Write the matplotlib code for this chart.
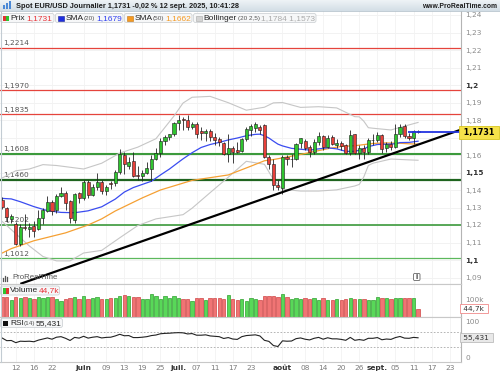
import numpy as np
import pandas as pd
import matplotlib
matplotlib.use("Agg")
import matplotlib.pyplot as plt
from matplotlib.patches import Rectangle, FancyBboxPatch
from matplotlib.transforms import blended_transform_factory
from matplotlib.colors import LinearSegmentedColormap

plt.rcParams['font.family'] = ['DejaVu Sans']

# ---------------- data ----------------
first_session = "2025-05-07"
last_session = "2025-09-12"

opens = [1.1345, 1.1298, 1.1232, 1.1205, 1.1092, 1.1188, 1.1180, 1.1192, 1.1180, 1.1238,
         1.1282, 1.1333, 1.1285, 1.1368, 1.1385, 1.1340, 1.1228, 1.1382, 1.1352, 1.1445,
         1.1372, 1.1415, 1.1445, 1.1392, 1.1440, 1.1440, 1.1503, 1.1600, 1.1540, 1.1565,
         1.1485, 1.1478, 1.1495, 1.1520, 1.1580, 1.1610, 1.1680, 1.1703, 1.1720, 1.1785,
         1.1805, 1.1798, 1.1760, 1.1780, 1.1740, 1.1725, 1.1740, 1.1703, 1.1690, 1.1670,
         1.1605, 1.1640, 1.1628, 1.1625, 1.1693, 1.1742, 1.1755, 1.1760, 1.1771, 1.1590,
         1.1550, 1.1430, 1.1410, 1.1590, 1.1575, 1.1578, 1.1668, 1.1680, 1.1645, 1.1615,
         1.1675, 1.1708, 1.1645, 1.1705, 1.1660, 1.1668, 1.1655, 1.1612, 1.1718, 1.1612,
         1.1640, 1.1615, 1.1685, 1.1688, 1.1715, 1.1638, 1.1662, 1.1648, 1.1718, 1.1765,
         1.1708, 1.1700, 1.1735]
highs = [1.1360, 1.1305, 1.1265, 1.1215, 1.1205, 1.1265, 1.1210, 1.1225, 1.1285, 1.1295,
         1.1365, 1.1345, 1.1375, 1.1420, 1.1395, 1.1345, 1.1385, 1.1390, 1.1455, 1.1455,
         1.1435, 1.1495, 1.1455, 1.1430, 1.1450, 1.1515, 1.1635, 1.1615, 1.1590, 1.1615,
         1.1540, 1.1515, 1.1560, 1.1600, 1.1640, 1.1700, 1.1715, 1.1720, 1.1790, 1.1830,
         1.1820, 1.1830, 1.1790, 1.1790, 1.1760, 1.1750, 1.1750, 1.1725, 1.1705, 1.1675,
         1.1722, 1.1650, 1.1675, 1.1700, 1.1760, 1.1778, 1.1790, 1.1770, 1.1775, 1.1600,
         1.1575, 1.1460, 1.1600, 1.1600, 1.1605, 1.1670, 1.1700, 1.1690, 1.1660, 1.1690,
         1.1730, 1.1715, 1.1715, 1.1715, 1.1690, 1.1680, 1.1665, 1.1742, 1.1722, 1.1660,
         1.1660, 1.1695, 1.1720, 1.1730, 1.1720, 1.1675, 1.1680, 1.1780, 1.1775, 1.1780,
         1.1725, 1.1745, 1.1745]
lows = [1.1290, 1.1220, 1.1210, 1.1085, 1.1080, 1.1170, 1.1130, 1.1130, 1.1170, 1.1205,
        1.1275, 1.1255, 1.1270, 1.1360, 1.1285, 1.1210, 1.1210, 1.1325, 1.1345, 1.1355,
        1.1365, 1.1400, 1.1375, 1.1370, 1.1405, 1.1425, 1.1490, 1.1490, 1.1520, 1.1475,
        1.1460, 1.1450, 1.1490, 1.1450, 1.1570, 1.1590, 1.1655, 1.1685, 1.1710, 1.1745,
        1.1745, 1.1745, 1.1750, 1.1700, 1.1685, 1.1680, 1.1680, 1.1655, 1.1650, 1.1600,
        1.1560, 1.1555, 1.1610, 1.1615, 1.1680, 1.1710, 1.1730, 1.1720, 1.1585, 1.1520,
        1.1400, 1.1400, 1.1380, 1.1545, 1.1530, 1.1570, 1.1640, 1.1630, 1.1590, 1.1605,
        1.1660, 1.1630, 1.1640, 1.1655, 1.1640, 1.1630, 1.1605, 1.1600, 1.1605, 1.1575,
        1.1575, 1.1605, 1.1655, 1.1675, 1.1610, 1.1620, 1.1630, 1.1640, 1.1705, 1.1695,
        1.1685, 1.1665, 1.1725]
closes = [1.1302, 1.1248, 1.1250, 1.1092, 1.1188, 1.1182, 1.1188, 1.1168, 1.1238, 1.1285,
          1.1333, 1.1280, 1.1365, 1.1385, 1.1328, 1.1240, 1.1378, 1.1352, 1.1445, 1.1372,
          1.1415, 1.1445, 1.1392, 1.1415, 1.1432, 1.1503, 1.1605, 1.1550, 1.1560, 1.1480,
          1.1478, 1.1495, 1.1525, 1.1580, 1.1610, 1.1680, 1.1703, 1.1718, 1.1785, 1.1802,
          1.1798, 1.1760, 1.1778, 1.1722, 1.1725, 1.1740, 1.1703, 1.1688, 1.1672, 1.1605,
          1.1640, 1.1615, 1.1620, 1.1693, 1.1750, 1.1768, 1.1780, 1.1742, 1.1590, 1.1550,
          1.1430, 1.1420, 1.1590, 1.1575, 1.1580, 1.1665, 1.1695, 1.1642, 1.1615, 1.1675,
          1.1708, 1.1645, 1.1700, 1.1665, 1.1668, 1.1650, 1.1612, 1.1715, 1.1612, 1.1640,
          1.1615, 1.1685, 1.1688, 1.1715, 1.1635, 1.1662, 1.1648, 1.1718, 1.1762, 1.1708,
          1.1700, 1.1735, 1.1731]
volumes_k = [114, 114, 98, 114, 110, 114, 110, 100, 114, 110,
             114, 114, 104, 90, 100, 110, 114, 104, 117, 100,
             110, 114, 100, 100, 106, 106, 117, 123, 117, 114,
             114, 100, 100, 133, 117, 100, 117, 106, 121, 106,
             100, 100, 90, 110, 106, 98, 106, 110, 106, 100,
             123, 100, 94, 100, 90, 106, 100, 98, 117, 117,
             121, 114, 128, 114, 104, 110, 100, 106, 100, 110,
             94, 106, 98, 94, 100, 96, 104, 110, 104, 100,
             100, 98, 94, 114, 106, 106, 104, 106, 106, 110,
             106, 110, 44.7]
rsi14 = [54.6, 47.5, 48.0, 42.0, 46.0, 45.5, 46.0, 44.5, 49.0, 52.0,
         55.0, 51.5, 57.0, 58.5, 54.0, 48.0, 56.5, 54.5, 59.5, 54.5,
         57.0, 58.5, 55.0, 56.5, 57.0, 60.5, 65.0, 61.0, 61.5, 56.0,
         56.0, 57.0, 58.5, 61.5, 63.0, 66.5, 67.5, 68.0, 69.0, 69.5,
         69.0, 66.0, 67.0, 62.5, 62.5, 63.5, 60.5, 59.5, 58.5, 53.5,
         56.0, 52.0, 51.0, 58.5, 61.5, 62.5, 63.5, 60.5, 48.5, 45.5,
         34.0, 31.5, 47.0, 46.0, 46.5, 53.0, 55.0, 51.5, 49.5, 54.0,
         56.5, 51.5, 55.5, 52.5, 52.5, 51.0, 48.5, 56.5, 48.5, 50.5,
         48.5, 54.0, 54.0, 56.0, 50.0, 52.0, 51.0, 56.0, 59.0, 54.5,
         54.0, 56.5, 55.4]

# indicator lines, read at session positions
sma20_pos = [0, 2, 4, 7, 10, 13, 16, 19, 22, 25, 27, 29, 31, 33, 35, 37, 39, 40, 42, 44,
             46, 48, 50, 52, 54, 56, 57, 58, 59, 60, 61, 62, 64, 66, 68, 70, 72, 74, 76, 78,
             80, 81, 83, 85, 87, 88, 90, 92]
sma20_val = [1.1352, 1.1349, 1.1333, 1.1305, 1.1282, 1.1272, 1.1270, 1.1281, 1.1304, 1.1348,
             1.1388, 1.1414, 1.1432, 1.1450, 1.1486, 1.1520, 1.1559, 1.1578, 1.1613, 1.1643,
             1.1660, 1.1672, 1.1686, 1.1697, 1.1710, 1.1718, 1.1719, 1.1710, 1.1697, 1.1679,
             1.1662, 1.1652, 1.1638, 1.1633, 1.1628, 1.1635, 1.1641, 1.1635, 1.1621, 1.1621,
             1.1634, 1.1648, 1.1660, 1.1662, 1.1664, 1.1671, 1.1672, 1.1679]
sma50_pos = [0, 2, 7, 14, 19, 22, 25, 27, 31, 35, 42, 50, 55, 58, 60, 65, 68, 72, 75, 78,
             82, 85, 88, 90, 92]
sma50_val = [1.1040, 1.1065, 1.1110, 1.1155, 1.1200, 1.1235, 1.1280, 1.1305, 1.1355, 1.1400,
             1.1455, 1.1486, 1.1536, 1.1567, 1.1574, 1.1598, 1.1614, 1.1636, 1.1649, 1.1653,
             1.1666, 1.1669, 1.1667, 1.1664, 1.1662]
boll_pos = [0, 3, 6, 9, 12, 15, 18, 22, 26, 30, 34, 38, 40, 42, 46, 50, 54, 58, 60, 62,
            66, 70, 74, 78, 79, 80, 81, 82, 86, 90, 92]
boll_up = [1.1469, 1.1510, 1.1520, 1.1545, 1.1540, 1.1530, 1.1520, 1.1553, 1.1611, 1.1645,
           1.1693, 1.1823, 1.1897, 1.1930, 1.1935, 1.1899, 1.1856, 1.1873, 1.1898, 1.1900,
           1.1872, 1.1876, 1.1869, 1.1819, 1.1818, 1.1793, 1.1756, 1.1753, 1.1743, 1.1772,
           1.1786]
boll_dn = [1.1220, 1.1150, 1.1080, 1.1020, 1.0995, 1.0995, 1.1040, 1.1055, 1.1127, 1.1197,
           1.1235, 1.1251, 1.1259, 1.1296, 1.1385, 1.1473, 1.1564, 1.1547, 1.1460, 1.1404,
           1.1394, 1.1394, 1.1401, 1.1423, 1.1432, 1.1475, 1.1540, 1.1553, 1.1577, 1.1572,
           1.1570]

red_levels = [1.2214, 1.1970, 1.1835]
red_labels = ['1,2214', '1,1970', '1,1835']
green_levels = [1.1608, 1.1460, 1.1202, 1.1012]
green_labels = ['1,1608', '1,1460', '1,1202', '1,1012']
green_colors = ['#3c9a3c', '#1f641f', '#3c9a3c', '#5cb85c']
green_widths = [1.5, 1.6, 1.2, 0.9]
trend_points = [(13.0, 1.0945), (101.5, 1.1745)]
last_price = 1.1731
last_line_start = 89.8

# 1,17 sits under the last-price tag in the reference, so it is not shown
price_ticks = [1.09, 1.10, 1.11, 1.12, 1.13, 1.14, 1.15, 1.16, 1.18, 1.19, 1.20,
               1.21, 1.22, 1.23, 1.24]
price_tick_labels = ['1,09', '1,1', '1,11', '1,12', '1,13', '1,14', '1,15', '1,16',
                     '1,18', '1,19', '1,2', '1,21', '1,22', '1,23', '1,24']
grid_levels = [1.09, 1.10, 1.11, 1.12, 1.13, 1.14, 1.15, 1.16, 1.17, 1.18, 1.19, 1.20,
               1.21, 1.22, 1.23, 1.24]
bold_price_labels = ['1,1', '1,15', '1,2']

tick_dates = ['2025-05-12', '2025-05-16', '2025-05-22', '2025-06-02', '2025-06-09',
              '2025-06-13', '2025-06-19', '2025-06-25', '2025-07-01', '2025-07-07',
              '2025-07-11', '2025-07-17', '2025-07-23', '2025-08-01', '2025-08-08',
              '2025-08-14', '2025-08-20', '2025-08-26', '2025-09-01', '2025-09-05',
              '2025-09-11', '2025-09-17', '2025-09-23']
tick_labels = ['12', '16', '22', 'juin', '09', '13', '19', '25', 'juil.', '07', '11', '17',
               '23', 'août', '08', '14', '20', '26', 'sept.', '05', '11', '17', '23']
month_labels = ['juin', 'juil.', 'août', 'sept.']

# ---------------- figure ----------------
W, H = 500, 375
fig = plt.figure(figsize=(5, 3.75), dpi=100)
fig.patch.set_facecolor('white')

def fy(y):
    return 1 - y / H

XMIN, XMAX = -0.5, 101.5
ax = fig.add_axes([0, fy(283.5), 461 / W, (283.5 - 11) / H])
axv = fig.add_axes([0, fy(316.5), 461 / W, 33 / H])
axr = fig.add_axes([0, fy(362), 461 / W, 45.5 / H])

axis_sessions = pd.bdate_range(first_session, "2025-09-30")
sessions = pd.bdate_range(first_session, last_session)
x = np.arange(len(sessions))
tick_pos = [axis_sessions.get_loc(pd.Timestamp(d)) for d in tick_dates]

o = np.array(opens); h = np.array(highs); l = np.array(lows); c = np.array(closes)
up = c >= o

for a in (ax, axv, axr):
    a.set_xlim(XMIN, XMAX)
    a.set_facecolor('white')
    for s in ('left', 'top'):
        a.spines[s].set_visible(False)
    a.spines['right'].set_color('#b4b4b4')
    a.spines['right'].set_linewidth(0.8)
    a.spines['bottom'].set_color('#c8c8c8')
    a.spines['bottom'].set_linewidth(0.8)
    a.yaxis.tick_right()
    a.set_xticks(tick_pos)
    a.grid(axis='x', color='#f2f2f2', lw=0.6, zorder=0)
    a.tick_params(axis='both', length=0, labelsize=5.3, labelcolor='#8a8a8a', pad=3)

ax.tick_params(axis='x', labelbottom=False)
axv.tick_params(axis='x', labelbottom=False)

# ---- main panel ----
ax.set_ylim(1.10 + (260 - 283.5) / 1750, 1.10 + (260 - 11) / 1750)
ax.set_yticks(price_ticks)
ax.set_yticklabels(price_tick_labels)
for t in ax.get_yticklabels():
    if t.get_text() in bold_price_labels:
        t.set_fontweight('bold'); t.set_color('#333333')
for gl in grid_levels:
    ax.axhline(gl, color='#f0f0f0', lw=0.6, zorder=0)

bt = blended_transform_factory(ax.transAxes, ax.transData)
for lv, lb in zip(red_levels, red_labels):
    ax.axhline(lv, color='#e5443c', lw=0.9, zorder=2)
    ax.annotate(lb, xy=(0, lv), xycoords=bt, xytext=(2, 0.8), textcoords='offset points',
                fontsize=5.3, color='#555555', va='bottom', ha='left', zorder=2)
for lv, lb, col, lw in zip(green_levels, green_labels, green_colors, green_widths):
    ax.axhline(lv, color=col, lw=lw, zorder=2)
    ax.annotate(lb, xy=(0, lv), xycoords=bt, xytext=(2, 1.0), textcoords='offset points',
                fontsize=5.3, color='#555555', va='bottom', ha='left', zorder=2)

ax.plot(boll_pos, boll_up, color='#c6c6c6', lw=0.8, zorder=2)
ax.plot(boll_pos, boll_dn, color='#c6c6c6', lw=0.8, zorder=2)
ax.plot(sma50_pos, sma50_val, color='#f5a033', lw=0.9, zorder=3)
ax.plot(sma20_pos, sma20_val, color='#3a4cf0', lw=0.9, zorder=3)

ax.vlines(x, l, h, color='#222222', lw=0.6, zorder=4)
body_bottom = np.minimum(o, c)
body_h = np.maximum(np.abs(c - o), 0.00012)
ax.bar(x, body_h, bottom=body_bottom, width=0.68,
       color=np.where(up, '#2fc42f', '#e8403a'), edgecolor='#1a1a1a',
       linewidth=0.4, zorder=5)

ax.axline(trend_points[0], trend_points[1], color='black', lw=1.6, zorder=6)
ax.hlines(last_price, last_line_start, XMAX, color='#2233e0', lw=1.3, zorder=6)
ax.text(1.0, last_price, ' 1,1731 ', transform=bt, fontsize=5.8, fontweight='bold',
        color='black', va='center', ha='left', clip_on=False, zorder=10,
        bbox=dict(boxstyle='square,pad=0.25', fc='#f6e24a', ec='#d8c51e', lw=0.6))

# ---- volume panel ----
axv.set_ylim(0, 33 / 0.172)
axv.bar(x, volumes_k, width=0.74, color=np.where(up, '#58d858', '#f07474'),
        edgecolor=np.where(up, '#2f9f2f', '#cf4444'), linewidth=0.5, zorder=3)
axv.set_yticks([100])
axv.set_yticklabels(['100k'])
btv = blended_transform_factory(axv.transAxes, axv.transData)
axv.text(1.0, volumes_k[-1], ' 44,7k ', transform=btv, fontsize=5.3, color='#333333',
         va='center', ha='left', clip_on=False, zorder=10,
         bbox=dict(boxstyle='square,pad=0.2', fc='white', ec='#f08a8a', lw=0.6))

# ---- RSI panel ----
axr.set_ylim(-4 / 0.36, 100 + 5 / 0.36)
axr.axhline(70, color='#a8a8a8', lw=0.6, ls=(0, (2, 2)), zorder=2)
axr.axhline(30, color='#a8a8a8', lw=0.6, ls=(0, (2, 2)), zorder=2)
axr.plot(x, rsi14, color='#222222', lw=0.8, zorder=3)
axr.set_yticks([0, 100])
axr.set_yticklabels(['0', '100'])
btr = blended_transform_factory(axr.transAxes, axr.transData)
axr.text(1.0, rsi14[-1], ' 55,431 ', transform=btr, fontsize=5.3, color='#333333',
         va='center', ha='left', clip_on=False, zorder=10,
         bbox=dict(boxstyle='square,pad=0.2', fc='#e8e8e8', ec='#bdbdbd', lw=0.6))
axr.set_xticklabels(tick_labels)
axr.tick_params(axis='x', pad=2.5, labelcolor='#7a7a7a')
for t in axr.get_xticklabels():
    if t.get_text() in month_labels:
        t.set_color('#333333'); t.set_fontweight('bold')

# ---- header ----
axh = fig.add_axes([0, fy(11), 1, 11 / H])
cm = LinearSegmentedColormap.from_list('hdr', ['#eef3f6', '#d3dee6'])
axh.imshow(np.linspace(0, 1, 20).reshape(-1, 1), aspect='auto', cmap=cm,
           extent=[0, 1, 0, 1])
axh.set_xlim(0, 1); axh.set_ylim(0, 1)
axh.axis('off')

# ---- overlay in pixel coordinates ----
ov = fig.add_axes([0, 0, 1, 1], zorder=20)
ov.set_xlim(0, W); ov.set_ylim(H, 0)
ov.axis('off')
renderer = fig.canvas.get_renderer()

def fit(t, width):
    w = t.get_window_extent(renderer).width
    if w > 0:
        t.set_fontsize(t.get_fontsize() * width / w)
    return t

ov.plot([0, 500], [11, 11], color='#b7c4cd', lw=0.6)
ov.plot([0.5, 0.5], [11, 362], color='#c3ccd3', lw=0.8)
for xx, hh in ((4, 4), (7, 6), (10, 8)):
    ov.plot([xx, xx], [9, 9 - hh], color='#3b7fd4', lw=1.3, solid_capstyle='butt')
t = ov.text(16, 6, 'Spot EUR/USD Journalier 1,1731 -0,02 % 12 sept. 2025, 10:41:28',
            fontsize=6, fontweight='bold', color='#1e1e1e', va='center', ha='left',
            family='Liberation Sans')
fit(t, 227)
t = ov.text(497, 6, 'www.ProRealTime.com', fontsize=6, fontweight='bold',
            color='#1e1e1e', va='center', ha='right', family='Liberation Sans')
fit(t, 75)

def box(x0, y0, w, h):
    ov.add_patch(FancyBboxPatch((x0, y0), w, h, boxstyle='round,pad=0,rounding_size=2',
                                fc='#f6f7f8', ec='#cfd3d6', lw=0.6, zorder=1))

MAIN_SIZE, SMALL_SIZE = 6.0, 4.6

def txt(xx, yy, s, color='#222222', size=MAIN_SIZE):
    return ov.text(xx, yy, s, fontsize=size, color=color, va='center', ha='left',
                   zorder=3, family='Liberation Sans')

# price legend row
box(0.5, 13.5, 53.5, 9)
ov.add_patch(Rectangle((2.5, 15.5), 3, 5.5, fc='#e03434', ec='none', zorder=2))
ov.add_patch(Rectangle((5.5, 15.5), 3, 5.5, fc='#2fc42f', ec='none', zorder=2))
txt(10, 18.3, 'Prix')
txt(26.5, 18.3, '1,1731', color='#e8343a')

box(55.5, 13.5, 67.5, 9)
ov.add_patch(Rectangle((58, 15.5), 5.5, 5.5, fc='#1f2fe0', ec='#15209a', lw=0.4, zorder=2))
txt(65.5, 18.3, 'SMA')
txt(84, 18.3, '(20)', color='#555555', size=SMALL_SIZE)
txt(96, 18.3, '1,1679', color='#3040f0')

box(124.5, 13.5, 67.5, 9)
ov.add_patch(Rectangle((127, 15.5), 5.5, 5.5, fc='#f59a23', ec='#c27410', lw=0.4, zorder=2))
txt(134.5, 18.3, 'SMA')
txt(153, 18.3, '(50)', color='#555555', size=SMALL_SIZE)
txt(165, 18.3, '1,1662', color='#f59a23')

box(193.5, 13.5, 122.5, 9)
ov.add_patch(Rectangle((196, 15.5), 5.5, 5.5, fc='#d4d4d4', ec='#a8a8a8', lw=0.4, zorder=2))
txt(203.5, 18.3, 'Bollinger')
txt(237.5, 18.3, '(20 2,5)', color='#555555', size=SMALL_SIZE)
txt(261, 18.3, '1,1784 1,1573', color='#ababab')

# volume legend
box(0.5, 286, 59, 9)
ov.add_patch(Rectangle((2.5, 288), 3, 5.5, fc='#2fc42f', ec='none', zorder=2))
ov.add_patch(Rectangle((5.5, 288), 3, 5.5, fc='#e03434', ec='none', zorder=2))
txt(10, 290.8, 'Volume')
txt(38.5, 290.8, '44,7k', color='#e8343a')

# RSI legend
box(0.5, 318.5, 62, 9)
ov.add_patch(Rectangle((2.5, 320.5), 5.5, 5.5, fc='#111111', ec='none', zorder=2))
txt(10, 323.3, 'RSI')
txt(23.5, 323.3, '(14)', color='#555555', size=SMALL_SIZE)
txt(36, 323.3, '55,431')

# separators
ov.plot([0, 461], [283.5, 283.5], color='#c8c8c8', lw=0.8)
ov.plot([0, 461], [316.5, 316.5], color='#c8c8c8', lw=0.8)

# watermark + info icon
for xx, hh in ((3, 3), (5, 5), (7, 4)):
    ov.plot([xx, xx], [280.5, 280.5 - hh], color='#555555', lw=0.9)
txt(12, 277.5, 'ProRealTime', color='#555555', size=5.6)
ov.add_patch(FancyBboxPatch((413.5, 273.5), 6.5, 7, boxstyle='round,pad=0,rounding_size=1.2',
                            fc='white', ec='#666666', lw=0.6, zorder=2))
ov.text(416.8, 277.2, 'i', fontsize=4.8, color='#444444', ha='center', va='center',
        fontweight='bold', zorder=3)

fig.savefig('out.png', dpi=100)
